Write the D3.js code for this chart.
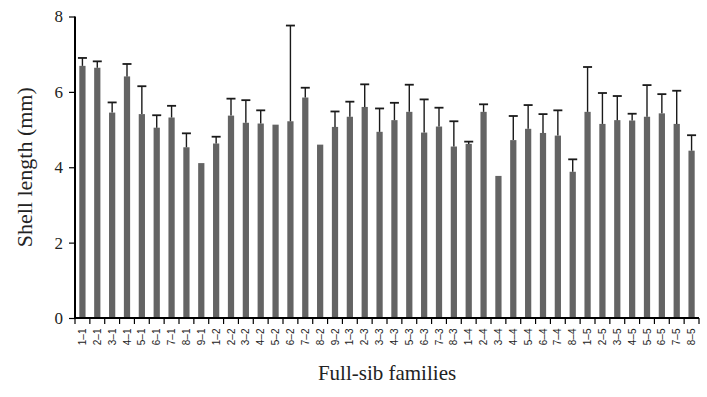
<!DOCTYPE html>
<html>
<head>
<meta charset="utf-8">
<script src="https://cdn.jsdelivr.net/npm/d3@7"></script>
<style>
  html, body { margin: 0; padding: 0; background: #fff; }
  svg { display: block; }
</style>
</head>
<body>
<svg id="chart" width="707" height="397"></svg>
<script>
const families = [
  "1–1","2–1","3–1","4–1","5–1","6–1","7–1","8–1","9–1",
  "1–2","2–2","3–2","4–2","5–2","6–2","7–2","8–2","9–2",
  "1–3","2–3","3–3","4–3","5–3","6–3","7–3","8–3",
  "1–4","2–4","3–4","4–4","5–4","6–4","7–4","8–4",
  "1–5","2–5","3–5","4–5","5–5","6–5","7–5","8–5"
];
const shellLength = [
  6.69, 6.64, 5.45, 6.41, 5.41, 5.05, 5.32, 4.53, 4.11,
  4.63, 5.37, 5.18, 5.16, 5.13, 5.22, 5.85, 4.60, 5.07,
  5.34, 5.60, 4.94, 5.25, 5.47, 4.92, 5.08, 4.55,
  4.62, 5.47, 3.77, 4.72, 5.02, 4.91, 4.84, 3.88,
  5.47, 5.15, 5.25, 5.24, 5.34, 5.43, 5.15, 4.44
];
const shellSD = [
  0.21, 0.17, 0.27, 0.33, 0.74, 0.33, 0.31, 0.37, 0,
  0.18, 0.45, 0.60, 0.35, 0, 2.54, 0.26, 0, 0.41,
  0.40, 0.60, 0.62, 0.46, 0.72, 0.88, 0.50, 0.67,
  0.06, 0.20, 0, 0.64, 0.63, 0.50, 0.67, 0.33,
  1.19, 0.82, 0.64, 0.18, 0.84, 0.51, 0.88, 0.41
];
const yTicks = [0, 2, 4, 6, 8];
const yTitle = "Shell length (mm)";
const xTitle = "Full-sib families";

const margin = {left: 75, right: 8, top: 16.5, bottom: 79};
const W = 707, H = 397;
const svg = d3.select("#chart");

const x = d3.scaleBand().domain(families)
  .range([margin.left, W - margin.right]).paddingInner(0.58).paddingOuter(0.29);
const y = d3.scaleLinear().domain([0, 8]).range([H - margin.bottom, margin.top]);

const data = families.map((f, i) => ({f, v: shellLength[i], e: shellSD[i]}));

// bars
svg.append("g").selectAll("rect").data(data).join("rect")
  .attr("x", d => x(d.f))
  .attr("width", x.bandwidth())
  .attr("y", d => y(d.v))
  .attr("height", d => y(0) - y(d.v))
  .attr("fill", "#646464");

// error bars
const eb = svg.append("g").attr("stroke", "#1a1a1a");
const withErr = data.filter(d => d.e > 0);
eb.selectAll("line.v").data(withErr).join("line")
  .attr("class", "v")
  .attr("x1", d => x(d.f) + x.bandwidth() / 2)
  .attr("x2", d => x(d.f) + x.bandwidth() / 2)
  .attr("y1", d => y(d.v))
  .attr("y2", d => y(d.v + d.e))
  .attr("stroke-width", 1.4);
eb.selectAll("line.c").data(withErr).join("line")
  .attr("class", "c")
  .attr("x1", d => x(d.f) + x.bandwidth() / 2 - 4.5)
  .attr("x2", d => x(d.f) + x.bandwidth() / 2 + 4.5)
  .attr("y1", d => y(d.v + d.e))
  .attr("y2", d => y(d.v + d.e))
  .attr("stroke-width", 1.8);

// y axis
const yAxis = svg.append("g")
  .attr("transform", `translate(${margin.left},0)`)
  .call(d3.axisLeft(y).tickValues(yTicks).tickSize(6).tickPadding(6).tickFormat(d3.format("d")));
yAxis.select(".domain").attr("stroke", "#000").attr("stroke-width", 2)
  .attr("d", `M0,${y(8)}V${y(0) + 1}`);
yAxis.selectAll(".tick line").attr("stroke", "#000").attr("stroke-width", 1.2);
yAxis.selectAll("text").attr("font-family", "'Liberation Serif', 'Times New Roman', serif")
  .attr("font-size", 17).attr("fill", "#222");

// x axis: labels at band centres
const xAxis = svg.append("g")
  .attr("transform", `translate(0,${y(0)})`)
  .call(d3.axisBottom(x).tickSize(0).tickPadding(0));
xAxis.select(".domain").attr("stroke", "#000").attr("stroke-width", 2)
  .attr("d", `M${margin.left - 1},0H${W - margin.right}`);
xAxis.selectAll(".tick text")
  .attr("font-family", "'Liberation Sans', Arial, sans-serif")
  .attr("font-size", 10)
  .attr("fill", "#222")
  .attr("text-anchor", "end")
  .attr("transform", "rotate(-90)")
  .attr("x", -10.5)
  .attr("y", 0)
  .attr("dy", "0.35em");

// x tick marks at band boundaries
const bounds = d3.range(families.length + 1).map(i => margin.left + i * x.step() * (1) - 0);
const step = (W - margin.right - margin.left) / families.length;
xAxis.append("g").selectAll("line").data(d3.range(families.length + 1)).join("line")
  .attr("x1", i => margin.left + i * step)
  .attr("x2", i => margin.left + i * step)
  .attr("y1", 0).attr("y2", 6)
  .attr("stroke", "#000").attr("stroke-width", 1.2);

// titles
svg.append("text")
  .attr("transform", `translate(32,${(y(0) + y(8)) / 2}) rotate(-90)`)
  .attr("text-anchor", "middle")
  .attr("font-family", "'Liberation Serif', 'Times New Roman', serif")
  .attr("font-size", 22).attr("fill", "#222")
  .text(yTitle);
svg.append("text")
  .attr("x", (margin.left + W - margin.right) / 2)
  .attr("y", 380)
  .attr("text-anchor", "middle")
  .attr("font-family", "'Liberation Serif', 'Times New Roman', serif")
  .attr("font-size", 21).attr("fill", "#222")
  .text(xTitle);
</script>
</body>
</html>
